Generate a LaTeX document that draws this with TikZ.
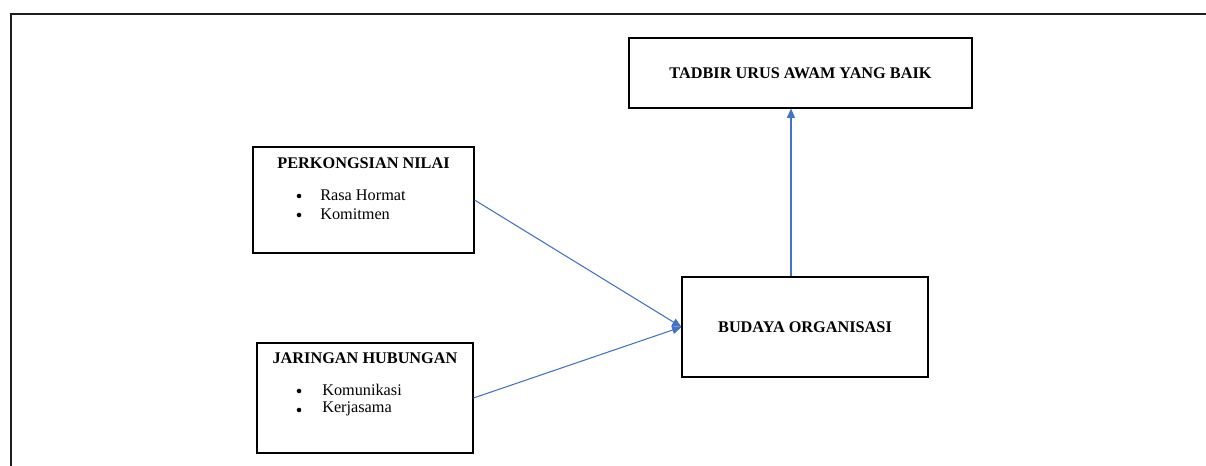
\documentclass[tikz,border=0pt]{standalone}
\usepackage{fontspec}
\setmainfont{Liberation Serif}
\usetikzlibrary{arrows.meta,positioning}
\definecolor{linkblue}{RGB}{68,114,196}
\definecolor{framegrey}{RGB}{30,30,30}

\begin{document}
\begin{tikzpicture}[x=0.75pt, y=-0.75pt,
    box/.style={rectangle, draw, line width=0.8pt, inner sep=0pt},
    title/.style={font=\fontsize{12.2}{14}\selectfont\bfseries},
    item/.style={font=\fontsize{12.2}{14}\selectfont, anchor=west, inner sep=0pt},
    dot/.style={circle, fill, inner sep=0pt, minimum size=3.4pt},
    link/.style={-{Triangle[length=7pt,width=6pt]}, linkblue, line width=0.8pt},
  ]
  \useasboundingbox (0,0) rectangle (1206,466);

  % Bingkai
  \draw[line width=1.5pt, framegrey] (1206,14) -- (11,14) -- (11,466);

  % Tadbir urus
  \node[box, title, minimum width=257.25pt, minimum height=52.5pt] (tadbir)
    at (800.5,73) {TADBIR URUS AWAM YANG BAIK};

  % Perkongsian nilai
  \node[box, minimum width=165.75pt, minimum height=79.5pt] (nilai)
    at (363.5,200) {};
  \node[title] (nilaiT) at (363.5,163) {PERKONGSIAN NILAI};
  \node[dot] (nilaiB1) at (299,196) {};
  \node[item] (nilaiI1) at (320,195) {Rasa Hormat};
  \node[dot] (nilaiB2) at (299,215) {};
  \node[item] (nilaiI2) at (320,214) {Komitmen};

  % Jaringan hubungan
  \node[box, minimum width=162pt, minimum height=82.5pt] (jaringan)
    at (365,398) {};
  \node[title] (jaringanT) at (365,358) {JARINGAN HUBUNGAN};
  \node[dot] (jaringanB1) at (299,391) {};
  \node[item] (jaringanI1) at (322,390) {Komunikasi};
  \node[dot] (jaringanB2) at (299,410) {};
  \node[item] (jaringanI2) at (322,409) {Kerjasama};

  % Budaya organisasi
  \node[box, title, minimum width=184.5pt, minimum height=75pt] (budaya)
    at (805,327) {BUDAYA ORGANISASI};

  % Anak panah
  \draw[link] (nilai.east) -- (budaya.west);
  \draw[link] (jaringan.east) -- (budaya.west);
  \draw[link] ([xshift=-10.5pt]budaya.north)
    -- ([xshift=-10.5pt]budaya.north |- tadbir.south);
\end{tikzpicture}
\end{document}
